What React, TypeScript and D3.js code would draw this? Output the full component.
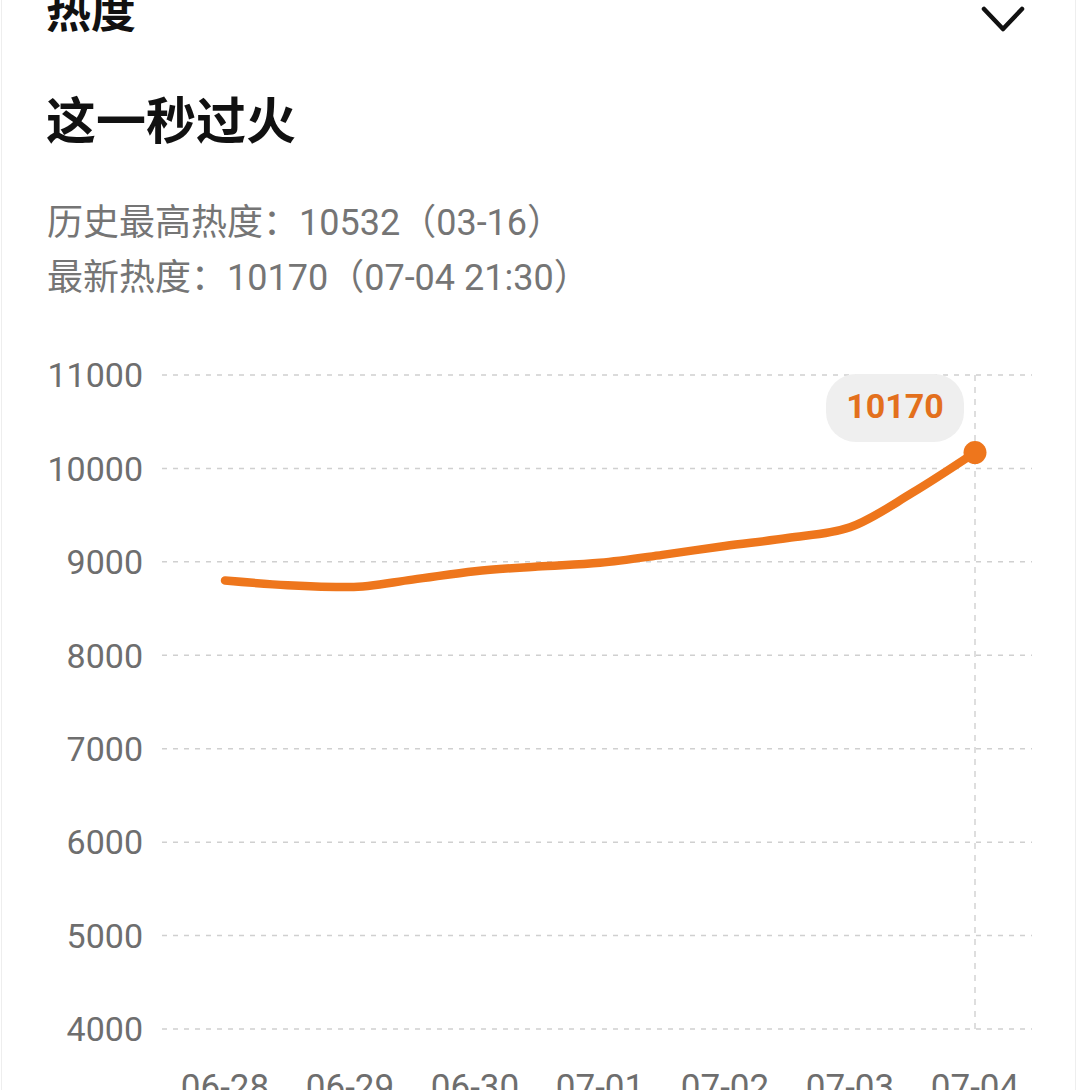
import React from 'react';
import * as d3 from 'd3';

// half-day samples, 06-28 → 07-04 21:30
const times = [
  '06-28 00:00', '06-28 12:00', '06-29 00:00', '06-29 12:00', '06-30 00:00',
  '06-30 12:00', '07-01 00:00', '07-01 12:00', '07-02 00:00', '07-02 12:00',
  '07-03 00:00', '07-03 12:00', '07-04 21:30',
];
const heat = [8800, 8750, 8730, 8810, 8900, 8950, 8990, 9075, 9170, 9255, 9370, 9740, 10170];
const dayLabels = ['06-28', '06-29', '06-30', '07-01', '07-02', '07-03', '07-04'];
const yTicks = [4000, 5000, 6000, 7000, 8000, 9000, 10000, 11000];

const W = 1080;
const H = 1090;
const ORANGE = '#ee761c';
const NUM_FONT = 'Roboto, "Noto Sans CJK SC", sans-serif';
const CJK_FONT = '"Noto Sans CJK SC", Roboto, sans-serif';

export default function App() {
  const x = d3.scalePoint<string>().domain(times).range([225, 975]);
  const y = d3.scaleLinear().domain([4000, 11000]).range([1029, 375]);
  const pts = times.map((t, i) => ({ t, v: heat[i] }));

  const line = d3.line<{ t: string; v: number }>()
    .x(d => x(d.t) as number)
    .y(d => y(d.v))
    .curve(d3.curveMonotoneX);

  const last = pts[pts.length - 1];
  const lx = x(last.t) as number;
  const ly = y(last.v);

  return (
    <div>
      <style>{`body{margin:0;background:#fff}`}</style>
      <svg width={W} height={H} style={{ display: 'block', overflow: 'hidden' }}>
        <rect x={1.5} y={-10} width={1074} height={H + 20} fill="#fff" stroke="#eeeeee" />

        {/* header */}
        <text x={46} y={28} fontSize={45} fontWeight={700} fill="#111" fontFamily={CJK_FONT}>热度</text>
        <polyline points="984,9 1003,29 1022,9" fill="none" stroke="#111" strokeWidth={4.5} strokeLinecap="round" strokeLinejoin="round" />
        <text x={46} y={139} fontSize={50} fontWeight={700} fill="#111" fontFamily={CJK_FONT}>这一秒过火</text>
        <text x={47} y={235} fontSize={36} fill="#757575" fontFamily={CJK_FONT}>
          历史最高热度：<tspan fontFamily={NUM_FONT}>10532</tspan>（<tspan fontFamily={NUM_FONT}>03-16</tspan>）
        </text>
        <text x={47} y={290} fontSize={36} fill="#757575" fontFamily={CJK_FONT}>
          最新热度：<tspan fontFamily={NUM_FONT}>10170</tspan>（<tspan fontFamily={NUM_FONT}>07-04 21:30</tspan>）
        </text>

        {/* grid + y labels */}
        {yTicks.map(t => (
          <g key={t}>
            <line x1={162} x2={1032} y1={y(t)} y2={y(t)} stroke="#d0d0d0" strokeWidth={1.5} strokeDasharray="5 6" />
            <text x={143} y={y(t)} dy="0.36em" textAnchor="end" fontSize={34} fill="#6e6e6e" fontFamily={NUM_FONT}>{t}</text>
          </g>
        ))}

        {/* x labels */}
        {dayLabels.map((d, i) => (
          <text key={d} x={x(times[Math.min(i * 2, times.length - 1)]) as number} y={1099} textAnchor="middle"
            fontSize={35} fill="#6e6e6e" fontFamily={NUM_FONT}>{d}</text>
        ))}

        {/* crosshair at latest point */}
        <line x1={lx} x2={lx} y1={375} y2={1029} stroke="#d4d4d4" strokeWidth={1.5} strokeDasharray="6 6" />

        <path d={line(pts) || ''} fill="none" stroke={ORANGE} strokeWidth={8.5} strokeLinecap="round" strokeLinejoin="round" />
        <circle cx={lx} cy={ly} r={11.5} fill={ORANGE} />

        {/* tooltip */}
        <rect x={826} y={374} width={138} height={68} rx={30} fill="#efefef" />
        <text x={895} y={406} dy="0.36em" textAnchor="middle" fontSize={34} fontWeight={700} fill="#e3701d" fontFamily={NUM_FONT}>
          {last.v}
        </text>
      </svg>
    </div>
  );
}
